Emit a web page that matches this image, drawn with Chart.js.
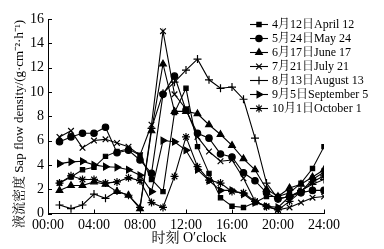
<!DOCTYPE html>
<html>
<head>
<meta charset="utf-8">
<script src="https://cdn.jsdelivr.net/npm/chart.js@4"></script>
<style>
  html, body { margin: 0; padding: 0; background: #fff; }
  #wrap { width: 384px; height: 249px; }
</style>
</head>
<body>
<div id="wrap"><canvas id="sapChart" width="384" height="249"></canvas></div>
<script>
const hours = [1, 2, 3, 4, 5, 6, 7, 8, 9, 10, 11, 12, 13, 14, 15, 16, 17, 18, 19, 20, 21, 22, 23, 24];
const tickLabels = ['00:00', '04:00', '08:00', '12:00', '16:00', '20:00', '24:00'];
const seriesNames = ['4月12日April 12', '5月24日May 24', '6月17日June 17', '7月21日July 21',
                     '8月13日August 13', '9月5日September 5', '10月1日October 1'];

const april12 = [2.5, 3.0, 3.6, 3.8, 4.7, 5.1, 5.3, 4.8, 2.8, 1.8, 8.3, 10.3, 5.5, 3.3, 1.3, 0.6, 0.5, 0.9, 1.4, 1.4, 1.7, 2.5, 3.7, 5.5];
const may24 = [5.9, 6.3, 6.6, 6.6, 7.1, 5.0, 5.2, 4.4, 3.3, 9.8, 11.3, 8.5, 6.6, 6.2, 4.9, 4.65, 3.35, 2.7, 1.7, 1.2, 1.4, 1.7, 1.9, 1.9];
const june17 = [1.9, 2.3, 2.3, 2.6, 2.4, 1.8, 1.5, 0.4, 6.8, 12.3, 8.4, 8.4, 8.2, 7.3, 6.5, 5.6, 4.5, 3.6, 2.0, 1.4, 2.1, 2.4, 3.0, 3.6];
const july21 = [6.3, 6.8, 5.4, 6.0, 6.1, 5.8, 5.5, 4.8, 7.3, 15.0, 9.8, 8.6, 6.3, 5.1, 4.3, 4.4, 2.9, 1.0, 0.6, 0.3, 0.5, 0.9, 1.3, 1.4];
const august13 = [0.7, 0.4, 0.7, 1.6, 1.25, 1.85, 1.5, 0.5, 7.0, 9.9, 10.8, 11.8, 12.7, 11.0, 10.3, 10.4, 9.4, 6.2, 2.5, 1.2, 1.4, 1.9, 2.4, 2.8];
const september5 = [4.1, 4.25, 4.3, 4.0, 3.85, 3.8, 3.6, 3.15, 1.8, 6.0, 5.9, 5.2, 3.6, 2.7, 1.9, 1.9, 1.6, 0.9, 0.6, 0.5, 1.4, 1.8, 2.8, 3.4];
const october1 = [2.5, 3.1, 2.8, 2.8, 2.5, 2.6, 2.95, 2.7, 0.9, 0.5, 3.05, 6.3, 3.85, 2.75, 2.5, 1.8, 1.7, 1.0, 0.56, 0.3, 1.0, 1.8, 2.6, 3.1];

const allSeries = [april12, may24, june17, july21, august13, september5, october1];
const markers = [
  { style: 'rect', rotation: 0, radius: 3 },
  { style: 'circle', rotation: 0, radius: 3.2 },
  { style: 'triangle', rotation: 0, radius: 3.8 },
  { style: 'crossRot', rotation: 0, radius: 4 },
  { style: 'cross', rotation: 0, radius: 4 },
  { style: 'triangle', rotation: 90, radius: 3.8 },
  { style: 'star', rotation: 0, radius: 4 }
];

const serif = '"Liberation Serif", "Noto Serif CJK SC", "Noto Sans CJK SC", serif';

const datasets = allSeries.map((vals, i) => ({
  label: seriesNames[i],
  data: hours.map((h, j) => ({ x: h, y: vals[j] })),
  borderColor: '#000',
  backgroundColor: '#000',
  borderWidth: 1.1,
  pointStyle: markers[i].style,
  pointRotation: markers[i].rotation,
  pointRadius: markers[i].radius,
  pointBorderWidth: 1.2,
  tension: 0
}));

// inward ticks, axis titles and legend drawn on the canvas
const decorations = {
  id: 'decorations',
  afterDraw(chart) {
    const ctx = chart.ctx;
    const xs = chart.scales.x, ys = chart.scales.y;
    const area = chart.chartArea;
    ctx.save();
    ctx.strokeStyle = '#000';
    ctx.lineWidth = 1;
    ctx.beginPath();
    for (let v = 0; v <= 24; v += 4) {
      const px = Math.round(xs.getPixelForValue(v)) + 0.5;
      ctx.moveTo(px, area.bottom);
      ctx.lineTo(px, area.bottom - 4);
    }
    for (let v = 0; v <= 16; v += 2) {
      const py = Math.round(ys.getPixelForValue(v)) + 0.5;
      ctx.moveTo(area.left, py);
      ctx.lineTo(area.left + 4, py);
    }
    ctx.stroke();

    // axis titles
    ctx.fillStyle = '#000';
    ctx.font = '14px ' + serif;
    ctx.textAlign = 'center';
    ctx.textBaseline = 'middle';
    ctx.fillText('时刻 O\u2032clock', 189, 238);

    ctx.save();
    ctx.translate(20, 124);
    ctx.rotate(-Math.PI / 2);
    ctx.font = '13px ' + serif;
    ctx.fillText('液流密度 Sap flow density/(g·cm⁻²·h⁻¹)', 0, 0);
    ctx.restore();

    // legend
    ctx.font = '12px ' + serif;
    ctx.textAlign = 'left';
    chart.data.datasets.forEach((ds, i) => {
      const y = 24.5 + i * 14;
      ctx.beginPath();
      ctx.lineWidth = 1.1;
      ctx.moveTo(250, y);
      ctx.lineTo(268, y);
      ctx.stroke();
      ctx.lineWidth = 1.2;
      Chart.helpers.drawPoint(ctx, {
        pointStyle: markers[i].style,
        rotation: markers[i].rotation,
        radius: markers[i].radius,
        borderWidth: 1.2
      }, 259, y);
      ctx.fillText(ds.label, 272, y + 0.5);
    });
    ctx.restore();
  }
};

new Chart(document.getElementById('sapChart'), {
  type: 'line',
  data: { datasets: datasets },
  options: {
    responsive: false,
    animation: false,
    layout: { padding: { top: 19, right: 60, left: 0, bottom: 0 } },
    plugins: { legend: { display: false }, tooltip: { enabled: false } },
    scales: {
      x: {
        type: 'linear',
        min: 0,
        max: 24,
        afterFit: s => { s.height = 35.5; },
        afterBuildTicks: s => { s.ticks = [0, 4, 8, 12, 16, 20, 24].map(v => ({ value: v })); },
        ticks: {
          color: '#000',
          padding: 3,
          maxRotation: 0,
          font: { family: serif, size: 14 },
          callback: (v) => tickLabels[v / 4]
        },
        grid: { drawOnChartArea: false, drawTicks: false },
        border: { display: true, color: '#000', width: 1 }
      },
      y: {
        min: 0,
        max: 16,
        afterFit: s => { s.width = 48; },
        ticks: {
          stepSize: 2,
          color: '#000',
          padding: 4,
          font: { family: serif, size: 14 }
        },
        grid: { drawOnChartArea: false, drawTicks: false },
        border: { display: true, color: '#000', width: 1 }
      }
    }
  },
  plugins: [decorations]
});
</script>
</body>
</html>
